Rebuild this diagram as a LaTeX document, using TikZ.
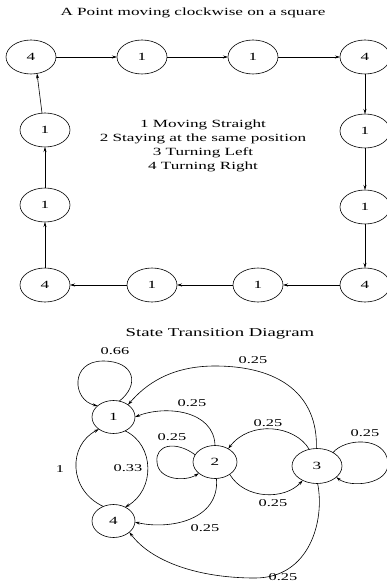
\documentclass[tikz,border=0pt]{standalone}
\usepackage{fontspec}
\setmainfont{Liberation Serif}[FakeStretch=1.56]
\usetikzlibrary{shapes.geometric,arrows.meta}
\begin{document}
\begin{tikzpicture}[x=1pt,y=-1pt,
  every node/.style={inner sep=0pt,outer sep=0pt},
  txt/.style={font=\fontsize{11}{14}\selectfont},
  lbl/.style={font=\fontsize{10.5}{12}\selectfont},
  sq/.style={draw,ellipse,minimum width=50pt,minimum height=34pt,line width=0.6pt,font=\fontsize{11}{12}\selectfont},
  st/.style={draw,ellipse,minimum width=43pt,minimum height=33pt,line width=0.6pt,font=\fontsize{11}{12}\selectfont},
  arr/.style={line width=0.6pt,-{Stealth[length=5pt,width=3pt]}}]
\useasboundingbox (0,0) rectangle (387,585);
% top title
\node[txt] (title) at (193,13) {A Point moving clockwise on a square};
% square nodes
\node[sq] (tl) at (31,57) {4};
\node[sq] (t1) at (142,57) {1};
\node[sq] (t2) at (253,57) {1};
\node[sq] (tr) at (365,57) {4};
\node[sq] (r1) at (365,131) {1};
\node[sq] (r2) at (365,207) {1};
\node[sq] (br) at (365,285) {4};
\node[sq] (b2) at (258,285) {1};
\node[sq] (b1) at (152,285) {1};
\node[sq] (bl) at (45,285) {4};
\node[sq] (l2) at (45,205) {1};
\node[sq] (l1) at (45,130) {1};
\draw[arr] (tl) -- (t1);
\draw[arr] (t1) -- (t2);
\draw[arr] (t2) -- (tr);
\draw[arr] (tr) -- (r1);
\draw[arr] (r1) -- (r2);
\draw[arr] (r2) -- (br);
\draw[arr] (br) -- (b2);
\draw[arr] (b2) -- (b1);
\draw[arr] (b1) -- (bl);
\draw[arr] (bl) -- (l2);
\draw[arr] (l2) -- (l1);
\draw[arr] (l1.100) -- (tl.-70);
% legend
\node[txt,align=center] (legend) at (203,146) {1 Moving Straight\\2 Staying at the same position\\3 Turning Left\\4 Turning Right};
% state transition diagram
\node[font=\fontsize{12}{14}\selectfont] (stitle) at (220,334) {State Transition Diagram};
\node[st] (n1) at (113.5,417) {1};
\node[st,minimum width=44pt] (n2) at (215,462) {2};
\node[st,minimum width=50pt,minimum height=35pt] (n3) at (317,466) {3};
\node[st] (n4) at (113.5,521) {4};
% edges
\draw[arr] (n1.70) .. controls (140,385) and (135,361) .. (103,361) .. controls (70,361) and (72,400) .. (n1.145);
\draw[arr] (n3.92) .. controls (318,395) and (280,366) .. (215,366) .. controls (170,366) and (145,385) .. (n1.40);
\draw[arr] (n2.90) .. controls (214,410) and (165,405) .. (n1.0);
\draw[arr] (n3.115) .. controls (295,425) and (250,420) .. (n2.45);
\draw[arr] (n2.160) .. controls (175,440) and (155,445) .. (157,462) .. controls (158,480) and (185,482) .. (n2.215);
\draw[arr] (n3.40) .. controls (345,438) and (385,436) .. (388,462) .. controls (390,485) and (350,488) .. (n3.-30);
\draw[arr] (n2.-40) .. controls (245,500) and (285,500) .. (n3.225);
\draw[arr] (n2.-85) .. controls (220,520) and (170,530) .. (n4.-3);
\draw[arr] (n1.-50) .. controls (155,445) and (155,490) .. (n4.50);
\draw[arr] (n4.125) .. controls (68,490) and (68,445) .. (n1.-140);
\draw[arr] (n3.-88) .. controls (325,520) and (310,578) .. (255,578) .. controls (195,578) and (150,560) .. (n4.-35);
% labels
\node[lbl] (p11) at (115,351) {0.66};
\node[lbl] (p31) at (253,360) {0.25};
\node[lbl] (p21) at (192,403) {0.25};
\node[lbl] (p22) at (172,437) {0.25};
\node[lbl] (p32) at (268,423) {0.25};
\node[lbl] (p33) at (365,433) {0.25};
\node[lbl] (p14) at (128,468) {0.33};
\node[lbl] (p41) at (60,469) {1};
\node[lbl] (p23) at (273,503) {0.25};
\node[lbl] (p24) at (205,528) {0.25};
\node[lbl] (p34) at (283,577) {0.25};
\end{tikzpicture}
\end{document}
